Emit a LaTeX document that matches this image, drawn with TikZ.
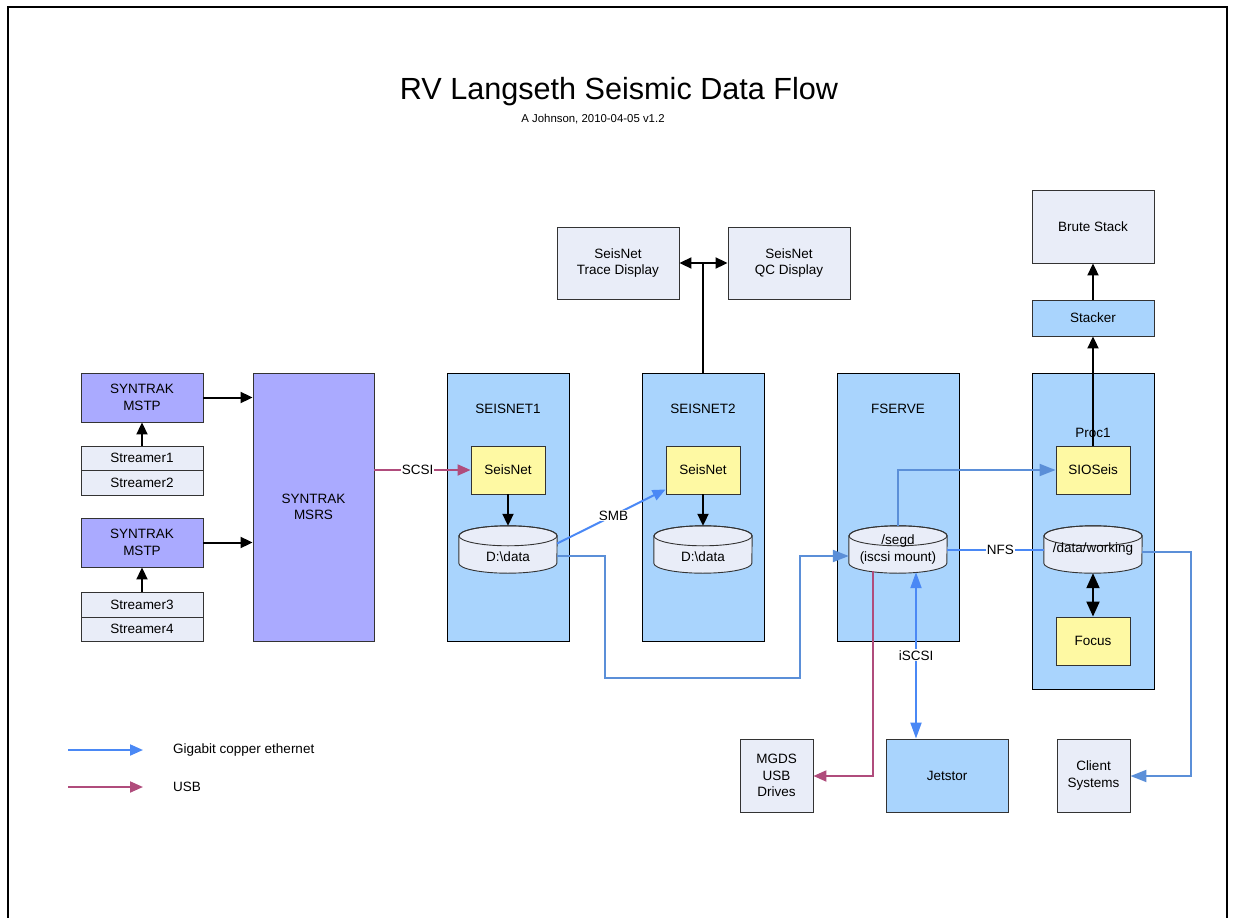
\documentclass[tikz,border=0pt]{standalone}
\usepackage{fontspec}
\setmainfont{Liberation Sans}
\usetikzlibrary{arrows.meta,calc}
\pgfdeclarelayer{bg}\pgfdeclarelayer{mid}
\pgfsetlayers{bg,mid,main}
\definecolor{mst}{HTML}{AAAAFF}
\definecolor{lgt}{HTML}{E9EDF8}
\definecolor{srvc}{HTML}{A9D4FD}
\definecolor{yel}{HTML}{FEF9A3}
\definecolor{ethb}{HTML}{4A88F5}
\definecolor{ethmc}{HTML}{5B8FD8}
\definecolor{usb}{HTML}{B04C7C}
\definecolor{edge}{HTML}{333333}
\newcommand\lbl{\fontsize{13.5}{16.5}\selectfont}
\newcommand\cylshape[1]{%
 \begin{pgfonlayer}{mid}
 \filldraw[fill=lgt,draw=edge,line width=0.9pt] ($(#1.north west)+(0,10)$) -- ($(#1.south west)+(0,-10)$) arc[start angle=180,end angle=360,x radius=49pt,y radius=10pt] -- ($(#1.north east)+(0,10)$) arc[start angle=0,end angle=180,x radius=49pt,y radius=10pt] -- cycle;
 \draw[draw=edge,line width=0.9pt] ($(#1.north)+(0,10)$) ellipse[x radius=49pt,y radius=10pt];
 \end{pgfonlayer}}
\begin{document}
\begin{tikzpicture}[x=1pt,y=-1pt,
  bx/.style={draw=edge,line width=0.9pt,inner sep=0pt,align=center,font=\lbl},
  mstp/.style={bx,fill=mst,minimum width=122pt,minimum height=49pt},
  strm/.style={bx,fill=lgt,minimum width=122pt,minimum height=24.5pt},
  srv/.style={draw=black,line width=1pt,fill=srvc,minimum width=122pt,minimum height=268pt,inner sep=0pt},
  ybox/.style={bx,fill=yel,minimum width=74pt,minimum height=48pt},
  lbox/.style={bx,fill=lgt},
  cylone/.style={inner sep=0pt,minimum width=98pt,minimum height=47pt,font=\lbl},
  cylbox/.style={cylone,align=center},
  txt/.style={inner sep=1pt,font=\lbl,text=black},
  wtxt/.style={txt,fill=white},
  blk/.style={line width=2pt,-{Triangle[length=12pt,width=11pt]}},
  eth/.style={ethb,line width=2pt,-{Triangle[length=13pt,width=11pt]}},
  ethm/.style={ethmc,line width=2pt,-{Triangle[length=16pt,width=12pt]}},
  usbl/.style={usb,line width=2pt,-{Triangle[length=13pt,width=11pt]}}]
\useasboundingbox (0,0) rectangle (1235,918);
\draw[line width=1.5pt] (8,918) -- (8,7) -- (1227,7) -- (1227,918);
% title
\node[anchor=base,inner sep=0pt,font=\fontsize{30.6}{36}\selectfont] (title) at (619,99) {RV Langseth Seismic Data Flow};
\node[anchor=base,inner sep=0pt,font=\fontsize{11.4}{13}\selectfont] (sub) at (593,122) {A Johnson, 2010-04-05 v1.2};
% left
\node[mstp] (mstp1) at (142,397.5) {SYNTRAK\\MSTP};
\node[strm] (str1) at (142,458.25) {Streamer1};
\node[strm] (str2) at (142,482.75) {Streamer2};
\node[mstp] (mstp2) at (142,542.5) {SYNTRAK\\MSTP};
\node[strm] (str3) at (142,604.75) {Streamer3};
\node[strm] (str4) at (142,629.25) {Streamer4};
\node[bx,fill=mst,minimum width=121pt,minimum height=268pt] (msrs) at (313.5,507) {SYNTRAK\\MSRS};
% servers
\begin{pgfonlayer}{bg}
\node[srv] (s1) at (508,507) {};
\node[srv] (s2) at (703,507) {};
\node[srv] (fs) at (898,507) {};
\node[srv,minimum height=316pt] (p1) at (1093,531) {};
\end{pgfonlayer}
\node[txt] (s1l) at (508,409) {SEISNET1};
\node[txt] (s2l) at (703,409) {SEISNET2};
\node[txt] (fsl) at (898,409) {FSERVE};
\node[txt] (p1l) at (1093,433) {Proc1};
\node[ybox] (sn1) at (508,470) {SeisNet};
\node[ybox] (sn2) at (703,470) {SeisNet};
\node[ybox] (sio) at (1093,470) {SIOSeis};
\node[ybox] (focus) at (1093,641) {Focus};
\node[cylone] (d1) at (508,549.5) {};
\node[cylone] (d2) at (703,549.5) {};
\node[txt] (d1t) at (508,557) {D:\textbackslash data};
\node[txt] (d2t) at (703,557) {D:\textbackslash data};
\node[cylbox] (segd) at (898,549.5) {/segd\\(iscsi mount)};
\node[cylone] (wd) at (1093,549.5) {/data/working};
\cylshape{d1}\cylshape{d2}\cylshape{segd}\cylshape{wd}
% top
\node[lbox,minimum width=122pt,minimum height=72pt] (trace) at (618,263) {SeisNet\\Trace Display};
\node[lbox,minimum width=122pt,minimum height=72pt] (qc) at (789,263) {SeisNet\\QC Display};
\node[bx,fill=srvc,minimum width=122pt,minimum height=36pt] (stack) at (1093,318) {Stacker};
\node[lbox,minimum width=122pt,minimum height=73pt] (brute) at (1093,226.5) {Brute Stack};
% bottom
\node[lbox,minimum width=73pt,minimum height=73pt] (mgds) at (776.5,775.5) {MGDS\\USB\\Drives};
\node[bx,fill=srvc,minimum width=122pt,minimum height=73pt] (jet) at (947,775.5) {Jetstor};
\node[lbox,minimum width=73pt,minimum height=73pt] (client) at (1093.5,775.5) {Client\\Systems};
% black arrows
\draw[blk] (str1.north) -- (mstp1.south);
\draw[blk] (str3.north) -- (mstp2.south);
\draw[blk] (mstp1.east) -- (mstp1.east-|msrs.west);
\draw[blk] (mstp2.east) -- (mstp2.east-|msrs.west);
\draw[blk] (sn1.south) -- (d1.north);
\draw[blk] (sn2.south) -- (d2.north);
\draw[line width=2pt] (s2.north) -- (s2.north|-trace.east);
\draw[line width=2pt,{Triangle[length=12pt,width=11pt]}-{Triangle[length=12pt,width=11pt]}] (trace.east) -- (qc.west);
\draw[blk] (sio.north) -- (stack.south);
\draw[blk] (stack.north) -- (brute.south);
\draw[line width=2pt,{Triangle[length=15pt,width=13pt]}-{Triangle[length=15pt,width=13pt]}] (wd.south) -- (focus.north);
% SCSI
\draw[usbl] (msrs.east|-sn1.west) -- node[wtxt,pos=.45] {SCSI} (sn1.west);
% SMB
\draw[eth] ($(d1.east)+(0,-6)$) -- node[wtxt,pos=.52] {SMB} ($(sn2.south west)+(0,-5)$);
% D:data to segd
\draw[ethm] ($(d1.east)+(0,6.5)$) -- (605,556) -- (605,678) -- (800,678) -- (800,556) -- ($(segd.west)+(0,6.5)$);
% segd to SIOSeis
\draw[ethm] (segd.north) -- (segd.north|-sio.west) -- (sio.west);
% NFS
\draw[ethb,line width=2pt] (segd.east) -- node[wtxt,pos=.55] {NFS} (wd.west);
% wd to client
\draw[ethm] ($(wd.east)+(0,2)$) -- (1191,551.5) -- (1191,776) -- (client.east|-1191,776);
% iSCSI
\coordinate (isa) at ($(segd.south)+(18,-1)$);
\draw[ethb,line width=2pt,{Triangle[length=16pt,width=11pt]}-{Triangle[length=16pt,width=11pt]}] (isa) -- node[wtxt,pos=.5] {iSCSI} (isa|-jet.north);
% USB
\coordinate (usa) at ($(segd.south)+(-25,-2)$);
\draw[usbl] (usa) -- (usa|-1191,776) -- (mgds.east|-1191,776);
% legend
\coordinate (la1) at (68,750); \coordinate (lb1) at (143,750);
\coordinate (la2) at (68,787); \coordinate (lb2) at (143,787);
\draw[eth] (la1) -- (lb1);
\draw[usbl] (la2) -- (lb2);
\node[txt,anchor=west] (lt1) at (172,750) {Gigabit copper ethernet};
\node[txt,anchor=west] (lt2) at (172,787) {USB};
\end{tikzpicture}
\end{document}
